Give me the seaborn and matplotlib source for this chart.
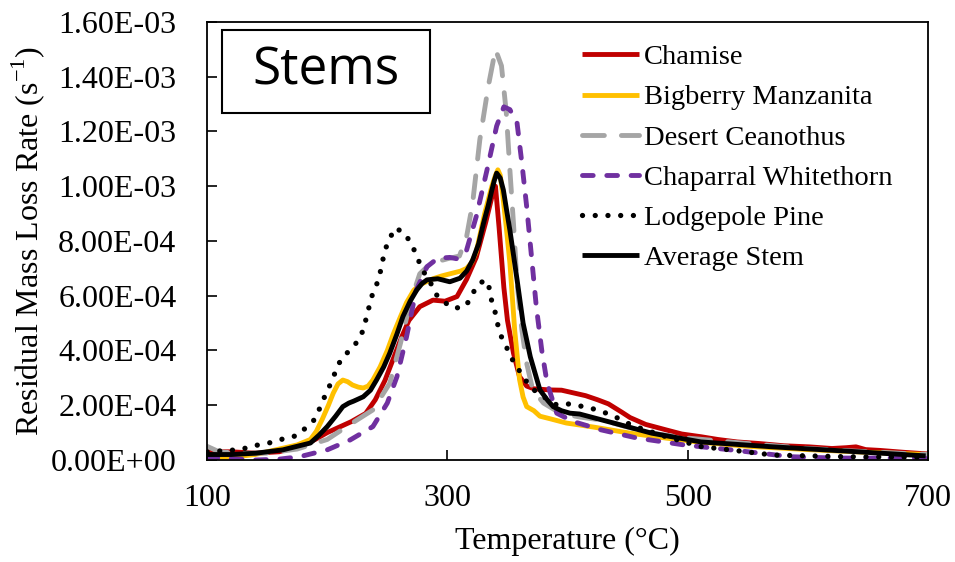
import numpy as np
import pandas as pd
import seaborn as sns
import matplotlib.pyplot as plt
from matplotlib.ticker import FuncFormatter
from matplotlib.patches import Rectangle

# values, rates in units of 1e-4 s^-1
chamise_T = [100, 120, 140, 160, 180, 190, 200, 210, 220, 232, 240, 248, 255, 262, 268, 277, 288, 298,
             308, 316, 324, 332, 337, 340, 343, 347, 350, 355, 360, 366, 372, 385, 395, 405, 415, 425,
             434, 445, 452, 465, 482, 495, 511, 525, 541, 560, 580, 601, 620, 632, 640, 648, 660, 680, 700]
chamise_v = [0.30, 0.30, 0.25, 0.30, 0.55, 0.75, 1.0, 1.2, 1.4, 1.7, 2.2, 2.9, 3.7, 4.5, 5.1, 5.6, 5.84, 5.8,
             5.97, 6.6, 7.4, 8.7, 9.6, 10.0, 8.5, 6.3, 5.1, 3.9, 3.05, 2.7, 2.6, 2.56, 2.55, 2.45, 2.35, 2.2,
             2.05, 1.75, 1.55, 1.3, 1.1, 0.95, 0.85, 0.75, 0.66, 0.6, 0.52, 0.48, 0.42, 0.45, 0.48, 0.38,
             0.35, 0.28, 0.22]

manzanita_T = [100, 120, 140, 163, 175, 186, 191, 196, 201, 205, 209, 213, 217, 221, 226, 230, 234, 238,
               244, 250, 255, 261, 266, 272, 277, 282, 288, 295, 302, 311, 316, 320, 324, 328, 331, 334,
               337, 340, 342, 344, 346, 349, 352, 356, 360, 363, 366, 372, 377, 386, 399, 422, 452,
               482, 510, 550, 600, 650, 700]
manzanita_v = [0.05, 0.1, 0.2, 0.43, 0.55, 0.75, 1.05, 1.5, 2.0, 2.44, 2.78, 2.92, 2.86, 2.74, 2.66, 2.63,
               2.7, 2.92, 3.4, 4.0, 4.6, 5.24, 5.75, 6.2, 6.4, 6.5, 6.62, 6.72, 6.8, 6.9, 7.0, 7.2, 7.6,
               8.4, 9.0, 9.5, 10.0, 10.4, 10.6, 10.4, 9.7, 8.5, 7.2, 4.75, 2.95, 2.3, 1.95, 1.8, 1.6, 1.5,
               1.35, 1.2, 0.98, 0.8, 0.65, 0.5, 0.38, 0.28, 0.2]

ceanothus_T = [100, 110, 125, 150, 175, 200, 219, 238, 252, 261, 269, 277, 286, 300, 310, 316, 321, 327,
               334, 340, 345, 349, 352, 355, 358, 362, 366, 371, 380, 394, 410, 430, 450, 475, 500, 550,
               600, 650, 700]
ceanothus_v = [0.5, 0.3, 0.25, 0.25, 0.4, 0.75, 1.3, 1.83, 2.8, 4.27, 5.73, 6.8, 7.18, 7.35, 7.45, 8.16,
               9.38, 11.7, 13.64, 15.0, 14.4, 12.7, 10.6, 8.64, 6.45, 4.75, 3.53, 2.56, 2.08, 1.71, 1.57,
               1.45, 1.2, 0.95, 0.8, 0.6, 0.42, 0.3, 0.2]

whitethorn_T = [100, 120, 141, 160, 177, 200, 219, 238, 250, 258, 266, 274, 283, 292, 302, 308, 316, 324,
                333, 341, 347, 352, 358, 362, 366, 370, 374, 378.5, 383, 391, 405, 428, 458, 497, 540,
                586, 624, 660, 700]
whitethorn_v = [0.1, 0.05, 0.0, 0.03, 0.12, 0.37, 0.73, 1.22, 2.08, 3.04, 4.5, 6.2, 7.06, 7.37, 7.4, 7.35,
                7.67, 8.89, 10.6, 12.2, 12.9, 12.8, 12.3, 10.84, 9.25, 7.43, 5.6, 4.02, 2.81, 1.71, 1.4,
                1.1, 0.8, 0.55, 0.35, 0.12, 0.07, 0.07, 0.07]

lodgepole_T = [100, 128, 137, 146, 156, 165, 175, 182, 190, 197, 205, 208, 213, 220, 226, 230, 237, 241,
               244, 248, 252, 256, 263, 269, 273, 277, 281, 287, 291, 297, 305, 315, 320, 324, 331, 334,
               337, 340, 342, 345, 349, 353.5, 363, 370, 380, 391, 402, 413, 422, 431, 440, 449, 458,
               482, 511, 541, 571, 630, 690, 700]
lodgepole_v = [0.3, 0.38, 0.5, 0.58, 0.66, 0.8, 0.89, 1.17, 1.5, 2.23, 3.0, 3.39, 3.77, 4.05, 4.38, 4.75,
               5.97, 6.39, 6.83, 7.67, 8.07, 8.47, 8.34, 7.98, 7.61, 7.18, 6.82, 6.39, 6.03, 5.78, 5.54,
               5.6, 5.97, 6.33, 6.58, 6.45, 5.78, 5.36, 4.93, 4.5, 4.14, 3.71, 3.04, 2.62, 2.31, 2.01,
               2.05, 1.95, 1.86, 1.73, 1.57, 1.36, 1.2, 0.85, 0.49, 0.34, 0.18, 0.12, 0.1, 0.1]

average_T = [100, 120, 141, 163, 186, 193, 200, 207, 213, 218, 222, 230, 236, 241, 247, 252, 258, 263,
             269, 274.5, 279, 283, 292, 302, 310.5, 316, 321, 326, 330, 334, 337, 339, 341, 344, 346.6,
             349, 352, 358, 363, 369, 377, 383, 388, 395, 402, 410, 434, 470, 511, 571, 630, 698]
average_v = [0.2, 0.2, 0.25, 0.37, 0.62, 0.9, 1.22, 1.6, 1.95, 2.08, 2.15, 2.31, 2.55, 2.92, 3.4, 3.9,
             4.6, 5.24, 5.8, 6.21, 6.45, 6.58, 6.62, 6.51, 6.64, 6.9, 7.3, 7.9, 8.64, 9.3, 9.86, 10.2,
             10.48, 10.3, 9.86, 9.2, 8.4, 6.58, 5.0, 3.77, 2.56, 2.2, 1.95, 1.8, 1.71, 1.68, 1.4, 0.98,
             0.66, 0.48, 0.33, 0.15]

labels = ["Chamise", "Bigberry Manzanita", "Desert Ceanothus", "Chaparral Whitethorn",
          "Lodgepole Pine", "Average Stem"]
x_ticks = [100, 300, 500, 700]

sns.set_style("ticks")
plt.rcParams["font.family"] = ["Liberation Serif", "DejaVu Serif"]
plt.rcParams["mathtext.fontset"] = "custom"
plt.rcParams["mathtext.rm"] = "Liberation Serif"
plt.rcParams["text.color"] = "black"
plt.rcParams["axes.labelcolor"] = "black"

fig = plt.figure(figsize=(9.55, 5.62), dpi=100)
ax = fig.add_axes([0.2168, 0.1815, 0.755, 0.7794])

styles = [
    ("#C00000", "-", 3.5),
    ("#FFC000", "-", 3.5),
    ("#A5A5A5", (0, (4.5, 3.5)), 3.5),
    ("#7030A0", (0, (2.2, 2.8)), 3.5),
    ("black", (0, (0.01, 2.4)), 3.8),
    ("black", "-", 3.5),
]
data = [(chamise_T, chamise_v), (manzanita_T, manzanita_v), (ceanothus_T, ceanothus_v),
        (whitethorn_T, whitethorn_v), (lodgepole_T, lodgepole_v), (average_T, average_v)]

for (t, v), name, (col, ls, w) in zip(data, labels, styles):
    df = pd.DataFrame({"T": t, "rate": np.array(v) * 1e-4})
    sns.lineplot(data=df, x="T", y="rate", ax=ax, color=col, lw=w, linestyle=ls,
                 label=name, sort=False, estimator=None,
                 dash_capstyle="round", solid_capstyle="butt", solid_joinstyle="round")

ax.set_xlim(100, 700)
ax.set_ylim(0, 1.6e-3)
ax.set_xticks(x_ticks)
ax.set_yticks(np.arange(0, 1.61e-3, 2e-4))
ax.yaxis.set_major_formatter(FuncFormatter(lambda v, p: f"{v:.2E}"))
ax.tick_params(direction="in", length=7, width=1.2, labelsize=23, colors="black")
ax.tick_params(axis="x", pad=17)
ax.tick_params(axis="y", pad=22)
for s in ax.spines.values():
    s.set_visible(True)
    s.set_linewidth(1.3)
    s.set_color("black")

ax.set_xlabel("Temperature (°C)", fontsize=23)
ax.set_ylabel(r"Residual Mass Loss Rate (s$^{\mathregular{-1}}$)", fontsize=23)
ax.xaxis.set_label_coords(0.5, -0.152)
ax.yaxis.set_label_coords(-0.222, 0.5)

ax.add_patch(Rectangle((0.0208, 0.792), 0.288, 0.19, transform=ax.transAxes,
                       fill=False, edgecolor="black", lw=1.5, zorder=5))
ax.text(0.165, 0.888, "Stems", transform=ax.transAxes, ha="center", va="center",
        fontsize=37, family="Open Sans", zorder=6)

ax.legend(loc="upper left", bbox_to_anchor=(0.609, 0.921), bbox_transform=fig.transFigure,
          frameon=False, borderpad=0, borderaxespad=0, fontsize=20.5, handlelength=2.0,
          handletextpad=0.2, labelspacing=0.5)

fig.savefig("out.png", dpi=100)
